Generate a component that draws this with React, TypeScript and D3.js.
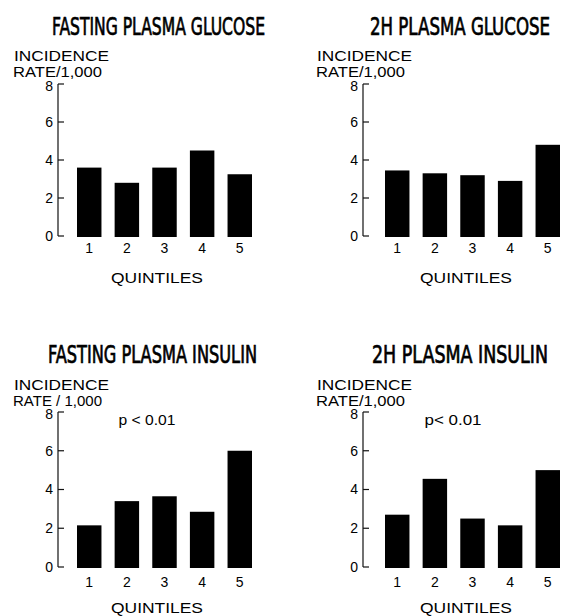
import React from "react";
import { scaleBand, scaleLinear } from "d3";

// chart values
const quintiles = ["1", "2", "3", "4", "5"];
const yTicks = [0, 2, 4, 6, 8];
const fastingGlucose = [3.6, 2.8, 3.6, 4.5, 3.25];
const twoHourGlucose = [3.45, 3.3, 3.2, 2.9, 4.8];
const fastingInsulin = [2.15, 3.4, 3.65, 2.85, 6.0];
const twoHourInsulin = [2.7, 4.55, 2.5, 2.15, 5.0];
const titles = [
  "FASTING PLASMA GLUCOSE",
  "2H PLASMA GLUCOSE",
  "FASTING PLASMA INSULIN",
  "2H PLASMA INSULIN",
];
const rateLabels = ["RATE/1,000", "RATE/1,000", "RATE / 1,000", "RATE/1,000"];
const pLabels = ["", "", "p < 0.01", "p< 0.01"];

const width = 564;
const height = 616;

const cols = [
  { axisX: 58, barStart: 77, labelX: 14, qCx: 157, pCx: 147 },
  { axisX: 363, barStart: 385, labelX: 317, qCx: 466, pCx: 453 },
];
const rows = [
  { y0: 236, y8: 84, titleY: 35, incY: 61, rateY: 77, tickY: 253, qY: 283, pY: 0 },
  { y0: 567, y8: 412, titleY: 363, incY: 390, rateY: 406, tickY: 587, qY: 613, pY: 425 },
];
const titleBox = [
  { x: 52, w: 213 },
  { x: 370, w: 180 },
  { x: 48, w: 209 },
  { x: 372, w: 176 },
];

const series = [fastingGlucose, twoHourGlucose, fastingInsulin, twoHourInsulin];

const sans = "'Liberation Sans', Arial, sans-serif";
const narrow = "'DejaVu Sans Condensed', 'Liberation Sans Narrow', sans-serif";

const Panel = ({ i }: { i: number }) => {
  const col = cols[i % 2];
  const row = rows[Math.floor(i / 2)];
  const values = series[i];

  const y = scaleLinear().domain([0, 8]).range([row.y0, row.y8]);
  const x = scaleBand()
    .domain(quintiles)
    .range([col.barStart, col.barStart + 175])
    .paddingInner(0.35);

  return (
    <g>
      <text
        x={titleBox[i].x}
        y={row.titleY}
        textLength={titleBox[i].w}
        lengthAdjust="spacingAndGlyphs"
        stroke="#000"
        strokeWidth={0.7}
        style={{ fontFamily: narrow, fontSize: 24 }}
      >
        {titles[i]}
      </text>
      <text
        x={col.labelX}
        y={row.incY}
        textLength={95}
        lengthAdjust="spacingAndGlyphs"
        style={{ fontFamily: sans, fontSize: 15 }}
      >
        INCIDENCE
      </text>
      <text
        x={col.labelX - 1}
        y={row.rateY}
        textLength={89}
        lengthAdjust="spacingAndGlyphs"
        style={{ fontFamily: sans, fontSize: 15 }}
      >
        {rateLabels[i]}
      </text>

      <line x1={col.axisX} x2={col.axisX} y1={y(8)} y2={y(0)} stroke="#111" strokeWidth={1.2} />
      {yTicks.map((t) => (
        <g key={t}>
          <line x1={col.axisX} x2={col.axisX + 6} y1={y(t)} y2={y(t)} stroke="#111" strokeWidth={1.2} />
          <text
            x={col.axisX - 5}
            y={y(t) + (t === 8 ? 2 : 0)}
            dy=".35em"
            style={{ fontFamily: sans, fontSize: 14, textAnchor: "end" }}
          >
            {t}
          </text>
        </g>
      ))}

      {values.map((v, j) => (
        <rect
          key={j}
          x={x(quintiles[j])}
          y={y(v)}
          width={x.bandwidth()}
          height={y(0) - y(v) + 1}
          fill="#000"
        />
      ))}

      {quintiles.map((q) => (
        <text
          key={q}
          x={(x(q) as number) + x.bandwidth() / 2}
          y={row.tickY}
          style={{ fontFamily: sans, fontSize: 14, textAnchor: "middle" }}
        >
          {q}
        </text>
      ))}

      <text
        x={col.qCx}
        y={row.qY}
        textLength={92}
        lengthAdjust="spacingAndGlyphs"
        style={{ fontFamily: sans, fontSize: 15, textAnchor: "middle" }}
      >
        QUINTILES
      </text>

      {pLabels[i] && (
        <text
          x={col.pCx}
          y={row.pY}
          textLength={57}
          lengthAdjust="spacingAndGlyphs"
          style={{ fontFamily: sans, fontSize: 15, textAnchor: "middle" }}
        >
          {pLabels[i]}
        </text>
      )}
    </g>
  );
};

export default function App() {
  return (
    <svg
      width={width}
      height={height}
      style={{ position: "absolute", left: 0, top: 0, background: "#fff" }}
    >
      {titles.map((t, i) => (
        <Panel key={t} i={i} />
      ))}
    </svg>
  );
}
